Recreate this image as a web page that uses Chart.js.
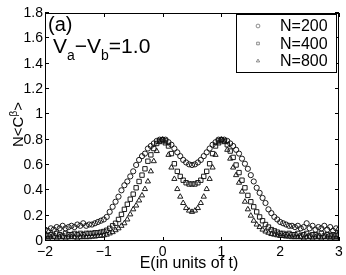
<!DOCTYPE html>
<html>
<head>
<meta charset="utf-8">
<script src="https://cdn.jsdelivr.net/npm/chart.js@4.4.1/dist/chart.umd.min.js"></script>
<style>
  html, body { margin: 0; padding: 0; background: #fff; }
  #wrap { width: 346px; height: 275px; }
</style>
</head>
<body>
<div id="wrap"><canvas id="diagram" width="346" height="275"></canvas></div>
<script>
// energy values (in units of t)
const energy = [
  -2.00, -1.95, -1.90, -1.85, -1.80, -1.75, -1.70, -1.65, -1.60, -1.55,
  -1.50, -1.45, -1.40, -1.35, -1.30, -1.25, -1.20, -1.15, -1.10, -1.05,
  -1.00, -0.95, -0.90, -0.85, -0.80, -0.75, -0.70, -0.65, -0.60, -0.55,
  -0.50, -0.45, -0.40, -0.35, -0.30, -0.25, -0.20, -0.15, -0.10, -0.05,
  0.00, 0.05, 0.10, 0.15, 0.20, 0.25, 0.30, 0.35, 0.40, 0.45,
  0.50, 0.55, 0.60, 0.65, 0.70, 0.75, 0.80, 0.85, 0.90, 0.95,
  1.00, 1.05, 1.10, 1.15, 1.20, 1.25, 1.30, 1.35, 1.40, 1.45,
  1.50, 1.55, 1.60, 1.65, 1.70, 1.75, 1.80, 1.85, 1.90, 1.95,
  2.00, 2.05, 2.10, 2.15, 2.20, 2.25, 2.30, 2.35, 2.40, 2.45,
  2.50, 2.55, 2.60, 2.65, 2.70, 2.75, 2.80, 2.85, 2.90, 2.95,
  3.00
];

// N<C^beta> for N=200 (circles)
const n200 = [
  0.09, 0.08, 0.10, 0.09, 0.11, 0.10, 0.12, 0.10, 0.11, 0.12,
  0.11, 0.13, 0.12, 0.14, 0.12, 0.13, 0.13, 0.14, 0.15, 0.16,
  0.17, 0.19, 0.23, 0.27, 0.31, 0.35, 0.40, 0.44, 0.47, 0.51,
  0.55, 0.60, 0.64, 0.67, 0.69, 0.73, 0.75, 0.77, 0.79, 0.80,
  0.80, 0.80, 0.78, 0.76, 0.73, 0.70, 0.67, 0.64, 0.62, 0.605,
  0.60, 0.605, 0.62, 0.64, 0.67, 0.70, 0.73, 0.76, 0.78, 0.80,
  0.80, 0.80, 0.79, 0.77, 0.75, 0.72, 0.69, 0.65, 0.61, 0.57,
  0.52, 0.47, 0.42, 0.38, 0.34, 0.30, 0.25, 0.22, 0.19, 0.17,
  0.15, 0.14, 0.13, 0.12, 0.12, 0.11, 0.12, 0.10, 0.11, 0.14,
  0.10, 0.12, 0.09, 0.11, 0.10, 0.12, 0.09, 0.11, 0.08, 0.10,
  0.09
];

// N=400 (squares)
const n400 = [
  0.05, 0.04, 0.05, 0.04, 0.06, 0.05, 0.04, 0.06, 0.05, 0.05,
  0.06, 0.05, 0.06, 0.05, 0.06, 0.06, 0.06, 0.065, 0.065, 0.07,
  0.075, 0.085, 0.10, 0.12, 0.14, 0.17, 0.21, 0.25, 0.29, 0.33,
  0.37, 0.42, 0.47, 0.52, 0.57, 0.63, 0.68, 0.73, 0.77, 0.79,
  0.80, 0.79, 0.75, 0.69, 0.61, 0.55, 0.51, 0.48, 0.46, 0.45,
  0.45, 0.45, 0.46, 0.48, 0.51, 0.55, 0.61, 0.69, 0.75, 0.79,
  0.80, 0.79, 0.76, 0.71, 0.66, 0.60, 0.54, 0.48, 0.42, 0.36,
  0.31, 0.27, 0.23, 0.19, 0.16, 0.13, 0.11, 0.09, 0.08, 0.07,
  0.06, 0.06, 0.05, 0.06, 0.05, 0.05, 0.06, 0.04, 0.05, 0.06,
  0.04, 0.05, 0.05, 0.04, 0.06, 0.04, 0.05, 0.04, 0.05, 0.04,
  0.05
];

// N=800 (triangles)
const n800 = [
  0.03, 0.02, 0.03, 0.03, 0.02, 0.03, 0.03, 0.02, 0.03, 0.03,
  0.03, 0.02, 0.03, 0.03, 0.03, 0.03, 0.035, 0.035, 0.04, 0.04,
  0.045, 0.05, 0.06, 0.07, 0.085, 0.10, 0.12, 0.14, 0.17, 0.21,
  0.25, 0.28, 0.32, 0.36, 0.41, 0.47, 0.55, 0.63, 0.71, 0.78,
  0.80, 0.77, 0.68, 0.58, 0.49, 0.41, 0.35, 0.30, 0.26, 0.24,
  0.23, 0.24, 0.26, 0.30, 0.35, 0.41, 0.49, 0.58, 0.68, 0.77,
  0.80, 0.78, 0.72, 0.65, 0.58, 0.52, 0.46, 0.39, 0.31, 0.25,
  0.20, 0.16, 0.13, 0.11, 0.09, 0.075, 0.065, 0.055, 0.05, 0.045,
  0.04, 0.04, 0.035, 0.035, 0.03, 0.03, 0.03, 0.03, 0.02, 0.03,
  0.03, 0.02, 0.03, 0.03, 0.02, 0.03, 0.03, 0.02, 0.03, 0.02,
  0.03
];

const seriesNames = ['N=200', 'N=400', 'N=800'];
const markers = ['circle', 'rect', 'triangle'];
const xTicks = [-2, -1, 0, 1, 2, 3];
const yTicks = [0, 0.2, 0.4, 0.6, 0.8, 1, 1.2, 1.4, 1.6, 1.8];

const font = 'Liberation Sans, Arial, Helvetica, sans-serif';
const ink = '#111';

function points(vals) {
  return energy.map(function (e, i) { return { x: e, y: vals[i] }; });
}

function minus(v) { /* matlab style minus sign */
  return v < 0 ? '\u2212' + Math.abs(v) : String(v);
}

// box, inward ticks, legend and texts
const extras = {
  id: 'extras',
  afterDraw(chart) {
    const c = chart.ctx;
    const a = chart.chartArea;
    const xs = chart.scales.x;
    const ys = chart.scales.y;
    c.save();
    c.strokeStyle = '#000';
    c.lineWidth = 1;
    c.strokeRect(Math.round(a.left) + 0.5, Math.round(a.top) + 0.5,
      Math.round(a.right - a.left) - 1, Math.round(a.bottom - a.top) - 1);

    // ticks inside the box on all four sides
    const tl = 4;
    c.beginPath();
    xTicks.forEach(function (t) {
      const px = Math.round(xs.getPixelForValue(t)) + 0.5;
      c.moveTo(px, a.bottom); c.lineTo(px, a.bottom - tl);
      c.moveTo(px, a.top); c.lineTo(px, a.top + tl);
    });
    yTicks.forEach(function (t) {
      const py = Math.round(ys.getPixelForValue(t)) - 0.5;
      c.moveTo(a.left, py); c.lineTo(a.left + tl, py);
      c.moveTo(a.right, py); c.lineTo(a.right - tl, py);
    });
    c.stroke();

    // legend box
    const bx = 236, by = 14, bw = 100, bh = 58;
    c.fillStyle = '#fff';
    c.fillRect(bx, by, bw, bh);
    c.strokeRect(bx + 0.5, by + 0.5, bw, bh);
    seriesNames.forEach(function (name, i) {
      const ry = by + 12 + i * 17.5;
      c.lineWidth = 0.6;
      c.strokeStyle = '#444';
      c.fillStyle = 'rgba(0,0,0,0)';
      Chart.helpers.drawPoint(c, { pointStyle: markers[i], radius: 1.9, borderWidth: 0.6 }, 258, ry);
      c.fillStyle = '#000';
      c.font = '16px ' + font;
      c.textBaseline = 'middle';
      c.textAlign = 'left';
      c.fillText(name, 280, ry + 1);
    });

    // (a) and Va-Vb=1.0
    c.fillStyle = '#000';
    c.textBaseline = 'alphabetic';
    c.font = '20px ' + font;
    c.fillText('(a)', 48, 31);
    let x = 53;
    const parts = [['V', 21, 0], ['a', 14, 7], ['\u2212', 21, 0], ['V', 21, 0], ['b', 14, 7], ['=1.0', 21, 0]];
    parts.forEach(function (p) {
      c.font = p[1] + 'px ' + font;
      c.fillText(p[0], x, 53 + p[2]);
      x += c.measureText(p[0]).width;
    });

    // x title
    c.font = '16px ' + font;
    c.textAlign = 'center';
    c.fillText('E(in units of t)', 189, 268);

    // y title, rotated: N<C^beta>
    c.save();
    c.translate(23, 124.5);
    c.rotate(-Math.PI / 2);
    c.textAlign = 'left';
    const yparts = [['N<C', 15, 0], ['\u03b2', 10, -6], ['>', 15, 0]];
    let w = 0;
    yparts.forEach(function (p) { c.font = p[1] + 'px ' + font; w += c.measureText(p[0]).width; });
    let yx = -w / 2;
    yparts.forEach(function (p) {
      c.font = p[1] + 'px ' + font;
      c.fillText(p[0], yx, p[2]);
      yx += c.measureText(p[0]).width;
    });
    c.restore();
    c.restore();
  }
};

const ctx = document.getElementById('diagram');

new Chart(ctx, {
  type: 'scatter',
  data: {
    datasets: [n200, n400, n800].map(function (vals, i) {
      return {
        label: seriesNames[i],
        data: points(vals),
        pointStyle: markers[i],
        pointRadius: [2.6, 3.1, 3.0][i],
        pointBorderWidth: 0.95,
        borderColor: ink,
        backgroundColor: 'rgba(0,0,0,0)',
        showLine: false
      };
    })
  },
  options: {
    responsive: false,
    animation: false,
    layout: { padding: { top: 13, right: 7, left: 0, bottom: 0 } },
    plugins: { legend: { display: false }, tooltip: { enabled: false } },
    scales: {
      x: {
        type: 'linear',
        min: -2, max: 3,
        afterFit: function (s) { s.height = 34; },
        afterBuildTicks: function (s) { s.ticks = xTicks.map(function (v) { return { value: v }; }); },
        grid: { display: false, drawTicks: false },
        border: { display: false },
        ticks: {
          padding: 3,
          color: '#000',
          font: { family: font, size: 14 },
          callback: function (v) { return minus(v); }
        }
      },
      y: {
        min: 0, max: 1.8,
        afterFit: function (s) { s.width = 45; },
        afterBuildTicks: function (s) { s.ticks = yTicks.map(function (v) { return { value: v }; }); },
        grid: { display: false, drawTicks: false },
        border: { display: false },
        ticks: {
          padding: 2,
          color: '#000',
          font: { family: font, size: 14 },
          callback: function (v) { return String(Math.round(v * 10) / 10); }
        }
      }
    }
  },
  plugins: [extras]
});
</script>
</body>
</html>
